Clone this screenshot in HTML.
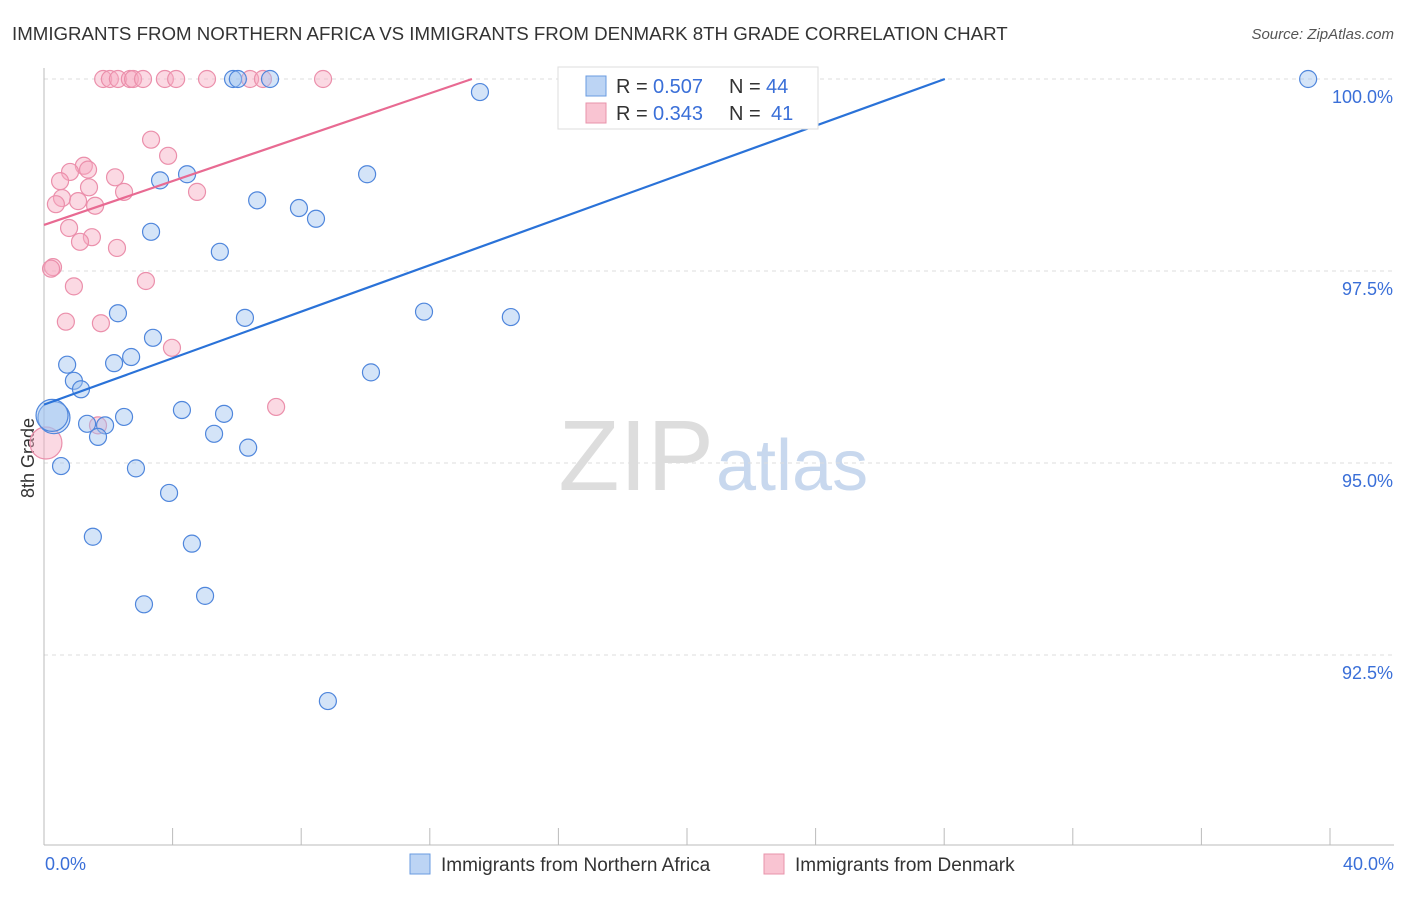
<!DOCTYPE html>
<html><head><meta charset="utf-8"><style>
body{margin:0;background:#fff;font-family:"Liberation Sans",sans-serif;}
svg text{font-family:"Liberation Sans",sans-serif;}
</style></head><body>
<svg id="chart" width="1406" height="892" xmlns="http://www.w3.org/2000/svg">
<text x="12" y="40" font-size="18.7" fill="#333">IMMIGRANTS FROM NORTHERN AFRICA VS IMMIGRANTS FROM DENMARK 8TH GRADE CORRELATION CHART</text>
<text x="1394" y="39" font-size="15" fill="#555" font-style="italic" text-anchor="end">Source: ZipAtlas.com</text>
<text x="34" y="458" font-size="18" fill="#333" transform="rotate(-90 34 458)" text-anchor="middle">8th Grade</text>
<text x="714" y="490" font-size="100" fill="#ddd" text-anchor="end" font-family="Liberation Serif">ZIP</text>
<text x="716" y="490" font-size="72" fill="#c8d8ee">atlas</text>
<g id="grid"></g><g id="axes"></g><g id="pts"></g><g id="lines"></g>
<g>
<rect x="558" y="67" width="260" height="62" fill="#fff" stroke="#ddd"/>
<rect x="586" y="76" width="20" height="20" fill="#bcd4f4" stroke="#6a9be0"/>
<rect x="586" y="103" width="20" height="20" fill="#f9c4d2" stroke="#e893ab"/>
<text x="616" y="93" font-size="20" fill="#333">R =</text>
<text x="653" y="93" font-size="20" fill="#3a6fd8">0.507</text>
<text x="729" y="93" font-size="20" fill="#333">N =</text>
<text x="766" y="93" font-size="20" fill="#3a6fd8">44</text>
<text x="616" y="120" font-size="20" fill="#333">R =</text>
<text x="653" y="120" font-size="20" fill="#3a6fd8">0.343</text>
<text x="729" y="120" font-size="20" fill="#333">N =</text>
<text x="771" y="120" font-size="20" fill="#3a6fd8">41</text>
</g>
<g>
<rect x="410" y="854" width="20" height="20" fill="#bcd4f4" stroke="#6a9be0"/>
<text x="441" y="871" font-size="19" fill="#333">Immigrants from Northern Africa</text>
<rect x="764" y="854" width="20" height="20" fill="#f9c4d2" stroke="#e893ab"/>
<text x="795" y="871" font-size="19" fill="#333">Immigrants from Denmark</text>
</g>
</svg>
<script>
const xTicks=[0,40];
const yTicks=[100,97.5,95,92.5];
const blueX=[5.88,6.03,7.03,13.56,39.32,3.61,4.45,10.05,6.63,7.93,8.46,3.33,5.47,2.30,6.25,11.82,14.52,3.39,2.71,2.18,0.72,10.17,0.93,1.15,4.29,2.49,5.60,0.31,1.34,1.90,1.68,5.29,6.35,0.53,2.86,3.89,1.52,4.60,3.11,5.01,8.83,0.25];
const blueY=[100,100,100,99.83,100,98.68,98.76,98.76,98.42,98.32,98.18,98.01,97.75,96.95,96.89,96.97,96.90,96.63,96.38,96.30,96.28,96.18,96.07,95.96,95.69,95.60,95.64,95.59,95.51,95.49,95.34,95.38,95.20,94.96,94.93,94.61,94.04,93.95,93.16,93.27,91.90,95.62];
const pinkX=[1.84,2.05,2.30,2.67,2.77,3.08,3.76,4.11,5.07,6.41,6.81,8.68,18.69,20.09,3.33,3.86,1.24,0.81,1.37,2.21,0.50,1.40,2.49,4.76,0.56,0.37,1.06,1.59,0.78,1.49,1.12,2.27,0.28,0.22,3.17,0.93,0.68,1.77,3.98,7.22,1.68,0.06];
const pinkY=[100,100,100,100,100,100,100,100,100,100,100,100,100,100,99.21,99.00,98.87,98.79,98.82,98.72,98.67,98.59,98.53,98.53,98.45,98.37,98.41,98.35,98.06,97.94,97.88,97.80,97.55,97.53,97.37,97.30,96.84,96.82,96.50,95.73,95.49,95.26];
const blueTrend=[0,95.76,28.02,100];
const pinkTrend=[0,98.10,13.31,100];
const X=v=>44+v*32.15, Y=v=>79+(100-v)*76.8;
const NS='http://www.w3.org/2000/svg';
function mk(t,a,p){const e=document.createElementNS(NS,t);for(const k in a)e.setAttribute(k,a[k]);p.appendChild(e);return e;}
const grid=document.getElementById('grid'),axes=document.getElementById('axes'),pts=document.getElementById('pts'),lines=document.getElementById('lines');
yTicks.forEach(v=>{const l=mk('line',{x1:44,x2:1394,y1:Y(v),y2:Y(v),stroke:'#ddd','stroke-dasharray':'4 4'},grid);


const t=mk('text',{x:1393,y:Y(v)+24,'font-size':18,fill:'#3a6fd8','text-anchor':'end'},axes);t.textContent=v.toFixed(1)+'%';

});
mk('line',{x1:44,x2:44,y1:68,y2:845,stroke:'#bbb'},axes);
mk('line',{x1:44,x2:1394,y1:845,y2:845,stroke:'#bbb'},axes);
for(let i=0;i<=10;i++){mk('line',{x1:X(i*4),x2:X(i*4),y1:828,y2:845,stroke:'#bbb'},axes);}
xTicks.forEach((v,i)=>{const t=mk('text',{x:i?1394:45,y:870,'font-size':18,fill:'#3a6fd8','text-anchor':i?'end':'start'},axes);t.textContent=v.toFixed(1)+'%';

});
function dots(xs,ys,fill,stroke,name){xs.forEach((x,i)=>{const big=(x<0.4&&ys[i]>95.2&&ys[i]<95.7);const c=mk('circle',{cx:X(x),cy:Y(ys[i]),r:big?16:8.5,fill:fill,stroke:stroke,'stroke-width':1.2},pts);

});}
dots(pinkX,pinkY,'rgba(246,170,192,0.45)','#eb8fab','pink-point');
dots(blueX,blueY,'rgba(160,195,240,0.45)','#4f86dc','blue-point');
const bl=mk('line',{x1:X(blueTrend[0]),y1:Y(blueTrend[1]),x2:X(blueTrend[2]),y2:Y(blueTrend[3]),stroke:'#2a72d8','stroke-width':2.2},lines);


const pl=mk('line',{x1:X(pinkTrend[0]),y1:Y(pinkTrend[1]),x2:X(pinkTrend[2]),y2:Y(pinkTrend[3]),stroke:'#e86a92','stroke-width':2.2},lines);


</script>
</body></html>
